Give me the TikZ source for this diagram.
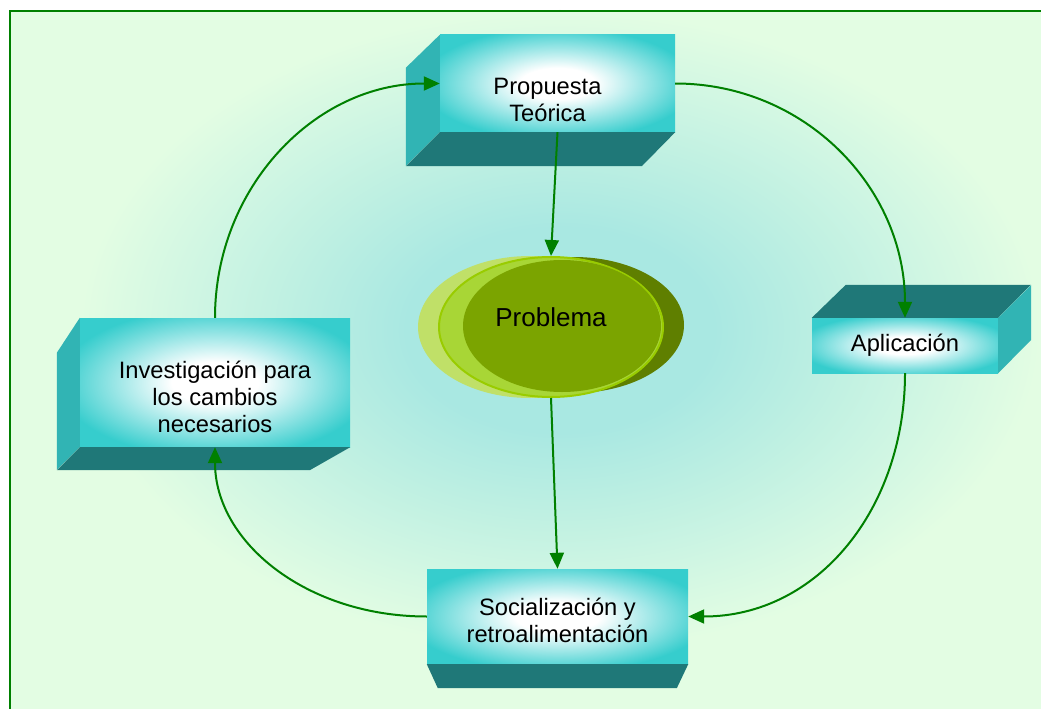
\documentclass[tikz,border=0pt]{standalone}
\usepackage{fontspec}
\setmainfont{Liberation Sans}
\usetikzlibrary{arrows.meta,calc,shapes.geometric}

\definecolor{cFondo}{HTML}{E3FDE3}
\definecolor{cBrillo}{HTML}{A9E8E2}
\definecolor{cMarco}{HTML}{008000}
\definecolor{cCian}{HTML}{36CDCD}
\definecolor{cLado}{HTML}{31B4B4}
\definecolor{cOscuro}{HTML}{1F7878}
\definecolor{cFlecha}{HTML}{008000}
\definecolor{cOlivaA}{HTML}{5F7F00}
\definecolor{cOlivaB}{HTML}{C0E068}
\definecolor{cOlivaC}{HTML}{A8D636}
\definecolor{cOlivaD}{HTML}{7BA400}
\definecolor{cBorde}{HTML}{99CC00}

\pgfdeclareradialshading{caja}{\pgfpointorigin}{color(0bp)=(white); color(8bp)=(white); color(29bp)=(cCian); color(50bp)=(cCian)}
\pgfdeclareradialshading{halo}{\pgfpointorigin}{color(0bp)=(cBrillo); color(8bp)=(cBrillo); color(25bp)=(cFondo); color(50bp)=(cFondo)}

\begin{document}
\begin{tikzpicture}[x=1pt,y=-1pt,
		cara/.style={shading=caja, inner sep=0pt, minimum width=#1},
		texto/.style={align=center, font=\fontsize{23.7}{27}\selectfont},
		lateral/.style={fill=cLado},
		fondocaja/.style={fill=cOscuro},
		flecha/.style={draw=cFlecha, line width=2, -{Triangle[length=16pt,width=14pt]}}]
	\useasboundingbox (0,0) rectangle (1041,709);
	\fill[white] (0,0) rectangle (1041,709);
	\fill[cFondo] (10,11) rectangle (1041,709);
	\shade[shading=halo] (560,330) ellipse [x radius=480, y radius=320];
	\draw[cMarco, line width=2] (1050,11) -- (10,11) -- (10,720);

	% cajas
	\node[cara=235, minimum height=97] (prop) at (557.5,83.5) {};
	\fill[lateral] (prop.north west) -- ++(-34,33) -- ++(0,98) -- (prop.south west) -- cycle;
	\fill[fondocaja] (prop.south west) -- ++(-34,34) -- ++(236,0) -- (prop.south east) -- cycle;
	\node[texto] (propT) at ([xshift=-10pt,yshift=-16.5pt]prop.center) {Propuesta\\Teórica};

	\node[cara=186, minimum height=55] (apl) at (905,345.5) {};
	\fill[fondocaja] (apl.north west) -- ++(34,-33) -- ++(185,0) -- (apl.north east) -- cycle;
	\fill[lateral] (apl.north east) -- ++(33,-33) -- ++(0,55) -- (apl.south east) -- cycle;
	\node[texto] (aplT) at (apl.center) {Aplicación};

	\node[cara=270, minimum height=129] (inv) at (215,382.5) {};
	\fill[lateral] (inv.north west) -- ++(-23,35) -- ++(0,117) -- (inv.south west) -- cycle;
	\fill[fondocaja] (inv.south west) -- ++(-23,23) -- ++(253,0) -- (inv.south east) -- cycle;
	\node[texto] (invT) at ([yshift=-14pt]inv.center) {Investigación para\\los cambios\\necesarios};

	\node[cara=261, minimum height=95] (soc) at (557.5,616.5) {};
	\fill[fondocaja] (soc.south west) -- ++(11,24) -- ++(239,0) -- (soc.south east) -- cycle;
	\node[texto] (socT) at ([yshift=-3.5pt]soc.center) {Socialización y\\retroalimentación};

	% problema
	\coordinate (probc) at (551,327);
	\fill[cOlivaA] ($(probc)+(23,-2)$) ellipse [x radius=110, y radius=68];
	\fill[cOlivaB] ($(probc)+(-21,0)$) ellipse [x radius=112, y radius=71];
	\node[ellipse, fill=cOlivaC, draw=cBorde, line width=2, minimum width=224, minimum height=140, inner sep=0pt] (prob) at (probc) {};
	\fill[cOlivaD] ($(probc)+(11,-1)$) ellipse [x radius=99, y radius=66];
	\node[font=\fontsize{26}{30}\selectfont] (probT) at ([yshift=10pt]prob.center) {Problema};

	% flechas
	\draw[flecha] (prop.east) .. controls +(130,0) and +(0,-130) .. (apl.north);
	\draw[flecha] (apl.south) .. controls +(0,135) and +(130,0) .. (soc.east);
	\draw[flecha] (soc.west) .. controls +(-120,0) and +(0,95) .. (inv.south);
	\draw[flecha] (inv.north) .. controls +(0,-130) and +(-125,0) .. (prop.west);
	\draw[flecha] (prop.south) -- (prob.north);
	\draw[flecha] (prob.south) -- (soc.north);
\end{tikzpicture}
\end{document}
